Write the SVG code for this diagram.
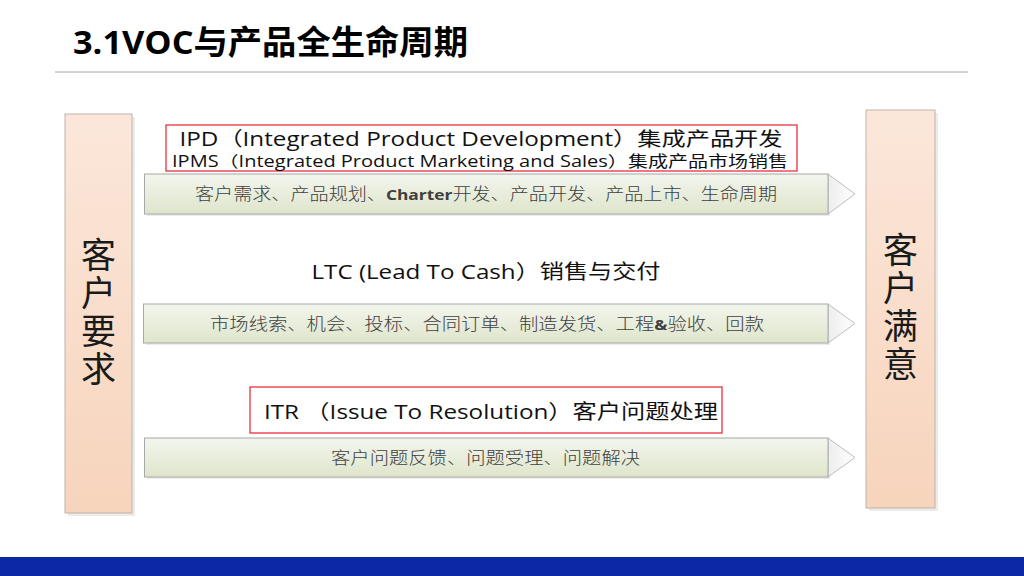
<svg xmlns="http://www.w3.org/2000/svg" width="1024" height="576" viewBox="0 0 1024 576">
<defs>
<linearGradient id="peach" x1="0" y1="0" x2="0" y2="1"><stop offset="0" stop-color="#FBE7DA"/><stop offset="1" stop-color="#F7D4BC"/></linearGradient>
<linearGradient id="green" x1="0" y1="0" x2="0" y2="1"><stop offset="0" stop-color="#F3F5EC"/><stop offset="1" stop-color="#DFE5CC"/></linearGradient>
<linearGradient id="tri" x1="0" y1="0" x2="1" y2="0"><stop offset="0" stop-color="#EDEDED"/><stop offset="1" stop-color="#FFFFFF"/></linearGradient>
<style>
.box{fill:url(#peach);stroke:#BFB3AA;stroke-width:1}
.shadow{fill:#000;opacity:0.08}
.bar{fill:url(#green);stroke:#A8A8A8;stroke-width:1}
.head{fill:url(#tri);stroke:#BDBDBD;stroke-width:1}
.big{font-family:"Noto Sans CJK SC",sans-serif;font-size:35px;fill:#1a1a1a;text-anchor:middle;writing-mode:vertical-rl;letter-spacing:3px}
.lbl{font-family:"Open Sans","Noto Sans CJK SC",sans-serif;fill:#111;text-anchor:middle}
.step{font-family:"Noto Sans CJK SC",serif;font-size:16.5px;fill:#404040;text-anchor:middle;font-weight:300}
.red{fill:none;stroke:#E8323C;stroke-width:1.3}
</style>
</defs>
<rect width="1024" height="576" fill="#fff"/>
<text x="73" y="54" font-family="'Open Sans','Noto Sans CJK SC',sans-serif" font-size="33" font-weight="bold" fill="#000" textLength="395" lengthAdjust="spacingAndGlyphs">3.1VOC与产品全生命周期</text>
<line x1="55" y1="72" x2="968" y2="72" stroke="#A6A6A6" stroke-width="1"/>
<rect x="0" y="557" width="1024" height="19" fill="#0C28A5"/>

<g id="left-box">
<rect class="shadow" x="68" y="117" width="67" height="399"/>
<rect class="box" x="65" y="114" width="67" height="399"/>
<text class="big" x="98.5" y="313">客户要求</text>
</g>
<g id="right-box">
<rect class="shadow" x="869" y="113" width="69" height="398"/>
<rect class="box" x="866" y="110" width="69" height="398"/>
<text class="big" x="900.5" y="308">客户满意</text>
</g>

<g id="connectors">
<g id="arrow-ipd">
<rect class="shadow" x="147" y="176" width="683" height="40"/>
<polygon class="head" points="828,174 855,194 828,214"/>
<rect class="bar" x="144.5" y="174" width="683.5" height="40"/>
<text class="step" x="486" y="200" textLength="582" lengthAdjust="spacingAndGlyphs">客户需求、产品规划、<tspan font-family="'Open Sans',sans-serif" font-weight="bold" font-size="15">Charter</tspan>开发、产品开发、产品上市、生命周期</text>
</g>
<g id="arrow-ltc">
<rect class="shadow" x="146" y="306" width="684" height="39"/>
<polygon class="head" points="828,304 855,323.5 828,343"/>
<rect class="bar" x="143.5" y="304" width="684.5" height="39"/>
<text class="step" x="487" y="329.5" textLength="554" lengthAdjust="spacingAndGlyphs">市场线索、机会、投标、合同订单、制造发货、工程<tspan font-family="'Open Sans',sans-serif" font-weight="bold" font-size="15">&amp;</tspan>验收、回款</text>
</g>
<g id="arrow-itr">
<rect class="shadow" x="147" y="440" width="683" height="39"/>
<polygon class="head" points="828,438 855,457.5 828,477"/>
<rect class="bar" x="144.5" y="438" width="683.5" height="39"/>
<text class="step" x="485.5" y="463.5" textLength="309" lengthAdjust="spacingAndGlyphs">客户问题反馈、问题受理、问题解决</text>
</g>
</g>

<g id="label-ipd">
<rect class="red" x="166" y="125" width="631" height="46"/>
<text class="lbl" x="481" y="145.5" font-size="19.5" textLength="603" lengthAdjust="spacingAndGlyphs">IPD（Integrated Product Development）集成产品开发</text>
<text class="lbl" x="480" y="166.5" font-size="15.5" textLength="616" lengthAdjust="spacingAndGlyphs">IPMS（Integrated Product Marketing and Sales）集成产品市场销售</text>
</g>
<g id="label-ltc">
<text class="lbl" x="486" y="279" font-size="20" textLength="349" lengthAdjust="spacingAndGlyphs">LTC (Lead To Cash）销售与交付</text>
</g>
<g id="label-itr">
<rect class="red" x="250" y="387" width="472" height="46"/>
<text class="lbl" x="491" y="419" font-size="20" textLength="454" lengthAdjust="spacingAndGlyphs">ITR （Issue To Resolution）客户问题处理</text>
</g>
</svg>
